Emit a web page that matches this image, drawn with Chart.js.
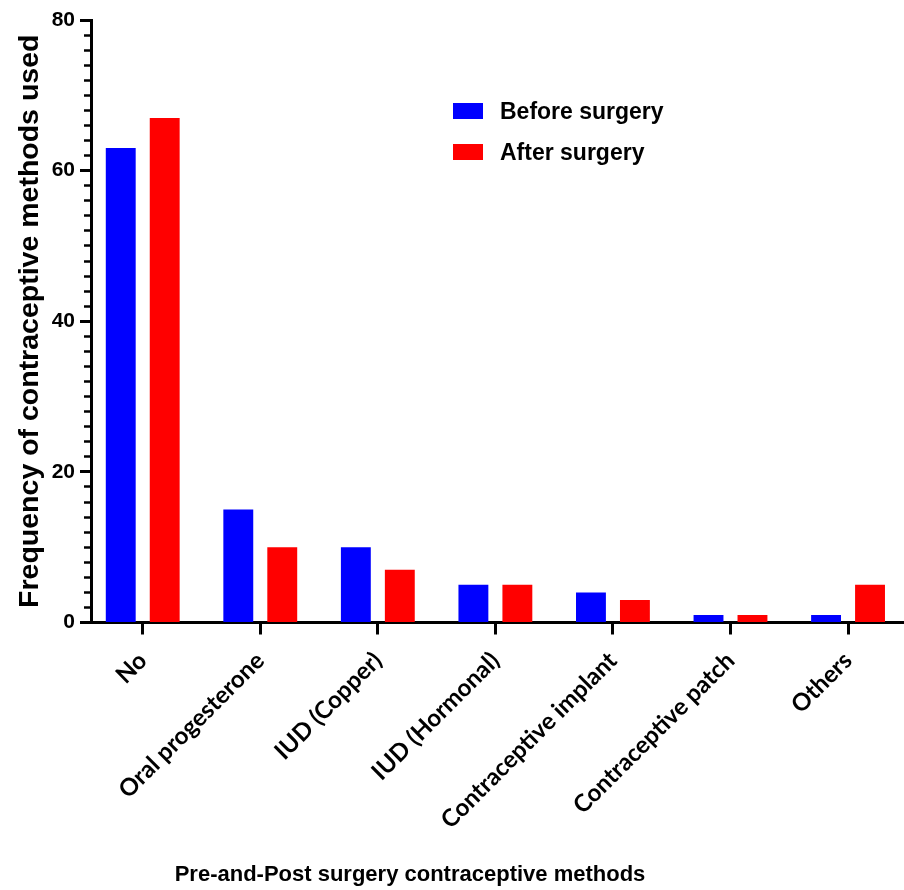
<!DOCTYPE html>
<html>
<head>
<meta charset="utf-8">
<script src="https://cdn.jsdelivr.net/npm/chart.js@4/dist/chart.umd.min.js"></script>
<style>
  html, body { margin: 0; padding: 0; background: #fff; overflow: hidden; }
  #wrap { position: relative; width: 904px; height: 890px; }
  #chart { position: absolute; left: 0; top: 0; }
  #legend { position: absolute; left: 453px; top: 98px; font: bold 23px "Liberation Sans", Arial, sans-serif; color: #000; }
  #legend .item { display: flex; align-items: center; height: 26px; margin-bottom: 15px; }
  #legend .box { display: inline-block; width: 30px; height: 16px; margin-right: 17px; }
  #xtitle { position: absolute; left: 410px; top: 861px; transform: translateX(-50%); white-space: nowrap;
            font: bold 22px "Liberation Sans", Arial, sans-serif; color: #000; }
</style>
</head>
<body>
<div id="wrap">
  <canvas id="chart" width="904" height="890"></canvas>
  <div id="legend"></div>
  <div id="xtitle"></div>
</div>
<script>
// Contraceptive methods reported before and after surgery (counts)
const categories = ['No', 'Oral progesterone', 'IUD (Copper)', 'IUD (Hormonal)',
                    'Contraceptive implant', 'Contraceptive patch', 'Others'];
const beforeSurgery = [63, 15, 10, 5, 4, 1, 1];
const afterSurgery  = [67, 10, 7, 5, 3, 1, 5];
const seriesNames   = ['Before surgery', 'After surgery'];
const seriesColors  = ['#0000ff', '#ff0000'];
const yMajorStep = 20;
const yMinorStep = 2;
const yMax = 80;
const xTitle = 'Pre-and-Post surgery contraceptive methods';
const yTitle = 'Frequency of contraceptive methods used';

const toPoints = vals => vals.map((v, i) => ({ x: i, y: v }));

const tickFont = { family: '"Liberation Sans", Arial, sans-serif', size: 21, weight: 'bold' };
const catFont  = { family: 'Lato, "Open Sans", sans-serif', size: 24, weight: 'bold' };

new Chart(document.getElementById('chart'), {
  type: 'bar',
  data: {
    datasets: [
      { label: seriesNames[0], data: toPoints(beforeSurgery), backgroundColor: seriesColors[0], borderWidth: 0 },
      { label: seriesNames[1], data: toPoints(afterSurgery),  backgroundColor: seriesColors[1], borderWidth: 0 }
    ]
  },
  options: {
    responsive: false,
    animation: false,
    devicePixelRatio: 1,
    categoryPercentage: 0.748,
    barPercentage: 0.68,
    layout: { padding: { left: 0, right: 0, top: 20, bottom: 0 } },
    plugins: { legend: { display: false }, tooltip: { enabled: false } },
    scales: {
      x: {
        type: 'linear',
        offset: false,
        min: -0.44,
        max: 6.476,
        afterFit: s => { s.height = 267.5; },
        afterBuildTicks: s => {
          s.ticks = s.ticks.filter(t => Number.isInteger(t.value) && t.value >= 0 && t.value < categories.length);
        },
        ticks: {
          stepSize: 1,
          includeBounds: false,
          autoSkip: false,
          minRotation: 45,
          maxRotation: 45,
          padding: 12,
          color: '#000',
          font: catFont,
          callback: v => categories[v] ?? ''
        },
        grid: { offset: false, drawOnChartArea: false, drawTicks: true, tickLength: 12, tickWidth: 3, tickColor: '#000' },
        border: { display: true, color: '#000', width: 3 }
      },
      y: {
        position: 'left',
        weight: 1,
        min: 0,
        max: yMax,
        afterFit: s => { s.width = 91; },
        ticks: { stepSize: yMajorStep, padding: 5, color: '#000', font: tickFont },
        grid: { drawOnChartArea: false, drawTicks: true, tickLength: 11, tickWidth: 3, tickColor: '#000' },
        border: { display: true, color: '#000', width: 3 },
        title: {
          display: true,
          text: yTitle,
          color: '#000',
          padding: { top: 13, bottom: 0 },
          font: { family: '"Liberation Sans", Arial, sans-serif', size: 28.5, weight: 'bold' }
        }
      },
      yMinor: {
        position: 'left',
        weight: 0,
        min: 0,
        max: yMax,
        afterFit: s => { s.width = 0; },
        ticks: { stepSize: yMinorStep, display: false },
        grid: { drawOnChartArea: false, drawTicks: true, tickLength: 7, tickWidth: 2.5, tickColor: '#000' },
        border: { display: false }
      }
    }
  }
});

// Legend entries and axis title as page text
const legend = document.getElementById('legend');
seriesNames.forEach((name, i) => {
  const item = document.createElement('div');
  item.className = 'item';
  const box = document.createElement('span');
  box.className = 'box';
  box.style.background = seriesColors[i];
  item.appendChild(box);
  item.appendChild(document.createTextNode(name));
  legend.appendChild(item);
});
document.getElementById('xtitle').textContent = xTitle;
</script>
</body>
</html>
